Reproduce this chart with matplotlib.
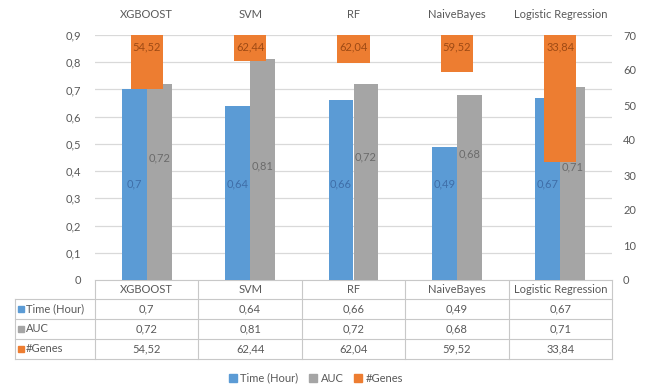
import numpy as np
import matplotlib
matplotlib.use("Agg")
from matplotlib import pyplot as plt
from matplotlib.patches import Rectangle

plt.rcParams['font.family'] = ['Lato', 'DejaVu Sans']
plt.rcParams['font.size'] = 8

# data
models = ["XGBOOST", "SVM", "RF", "NaiveBayes", "Logistic Regression"]
time_hour = [0.7, 0.64, 0.66, 0.49, 0.67]
auc = [0.72, 0.81, 0.72, 0.68, 0.71]
n_genes = [54.52, 62.44, 62.04, 59.52, 33.84]
series_names = ["Time (Hour)", "AUC", "#Genes"]

# label heights used in the original picture (left axis units)
auc_label_y = [0.448, 0.419, 0.452, 0.463, 0.415]
time_label_y = 0.352
genes_label_y = 66.6

BLUE = "#5B9BD5"
GRAY = "#A5A5A5"
ORANGE = "#ED7D31"
TXT = "#595959"
GRID = "#D9D9D9"

def fmt(v):
    return ("%g" % v).replace(".", ",")

W, H = 646, 385
fig = plt.figure(figsize=(W / 100, H / 100), dpi=100)

x0, x1, ytop, ybot = 95, 612, 35, 280
ax = fig.add_axes([x0 / W, 1 - ybot / H, (x1 - x0) / W, (ybot - ytop) / H])
ax2 = ax.twinx()

x = np.arange(len(models))
bw = 0.24
ax.bar(x - bw / 2, time_hour, bw, color=BLUE, zorder=2)
ax.bar(x + bw / 2, auc, bw, color=GRAY, zorder=2)
ax.set_xlim(-0.5, len(models) - 0.5)
ax.set_ylim(0, 0.9)
ax.set_yticks(np.arange(0, 0.91, 0.1))
ax.set_yticklabels([fmt(round(v, 1)) for v in np.arange(0, 0.91, 0.1)])
ax.yaxis.grid(True, color=GRID, lw=0.9, zorder=0)
ax.set_axisbelow(True)
ax.xaxis.tick_top()
ax.set_xticks(x)
ax.set_xticklabels(models)
ax.tick_params(axis='both', length=0, colors=TXT, labelsize=8)
ax.tick_params(axis='x', pad=11)
ax.tick_params(axis='y', pad=10)
for s in ax.spines.values():
    s.set_visible(False)

# secondary axis: bars hang from the top (axis crosses at max)
ax2.bar(x, np.array(n_genes) - 70, 0.31, bottom=70, color=ORANGE, zorder=3)
ax2.set_ylim(0, 70)
ax2.set_yticks(range(0, 71, 10))
ax2.tick_params(axis='y', length=0, colors=TXT, labelsize=8, pad=8)
for s in ax2.spines.values():
    s.set_visible(False)

for i in range(len(models)):
    ax.text(x[i] - bw / 2, time_label_y, fmt(time_hour[i]), ha='center', va='center',
            color="#3F6EA8", fontsize=8, zorder=5)
    ax.text(x[i] + bw / 2, auc_label_y[i], fmt(auc[i]), ha='center', va='center',
            color="#6B6B6B", fontsize=8, zorder=5)
    ax2.text(x[i], genes_label_y, fmt(n_genes[i]), ha='center', va='center',
             color="#9E4A14", fontsize=8, zorder=5)

# data table drawn in pixel coordinates
tb = fig.add_axes([0, 0, 1, 1], zorder=-1)
tb.set_xlim(0, W)
tb.set_ylim(H, 0)
tb.axis('off')
BORDER = "#C8C8C8"
lab_x0 = 15
row_y = [280, 299, 319, 339, 359]
col_w = (x1 - x0) / len(models)
# horizontal lines
tb.plot([x0, x1], [row_y[0], row_y[0]], color=BORDER, lw=0.8)
for yy in row_y[1:]:
    tb.plot([lab_x0, x1], [yy, yy], color=BORDER, lw=0.8)
# vertical lines
tb.plot([lab_x0, lab_x0], [row_y[1], row_y[-1]], color=BORDER, lw=0.8)
for j in range(len(models) + 1):
    xx = x0 + j * col_w
    tb.plot([xx, xx], [row_y[0], row_y[-1]], color=BORDER, lw=0.8)

rows = [time_hour, auc, n_genes]
colors = [BLUE, GRAY, ORANGE]
for j, m in enumerate(models):
    cx = x0 + (j + 0.5) * col_w
    tb.text(cx, (row_y[0] + row_y[1]) / 2, m, ha='center', va='center', color=TXT, fontsize=8)
    for r, vals in enumerate(rows):
        tb.text(cx, (row_y[r + 1] + row_y[r + 2]) / 2, fmt(vals[j]), ha='center',
                va='center', color=TXT, fontsize=8)
for r, name in enumerate(series_names):
    yc = (row_y[r + 1] + row_y[r + 2]) / 2
    tb.add_patch(Rectangle((lab_x0 + 3, yc - 3), 6, 6, color=colors[r]))
    tb.text(lab_x0 + 11, yc, name, ha='left', va='center', color=TXT, fontsize=8)

handles = [Rectangle((0, 0), 1, 1, color=c) for c in colors]
fig.legend(handles, series_names, loc='center', bbox_to_anchor=(316 / W, 1 - 378 / H),
           ncol=3, frameon=False, fontsize=8, handlelength=0.7, handleheight=0.7,
           handletextpad=0.3, columnspacing=1.0, labelcolor=TXT)

fig.savefig("out.png", dpi=100)
